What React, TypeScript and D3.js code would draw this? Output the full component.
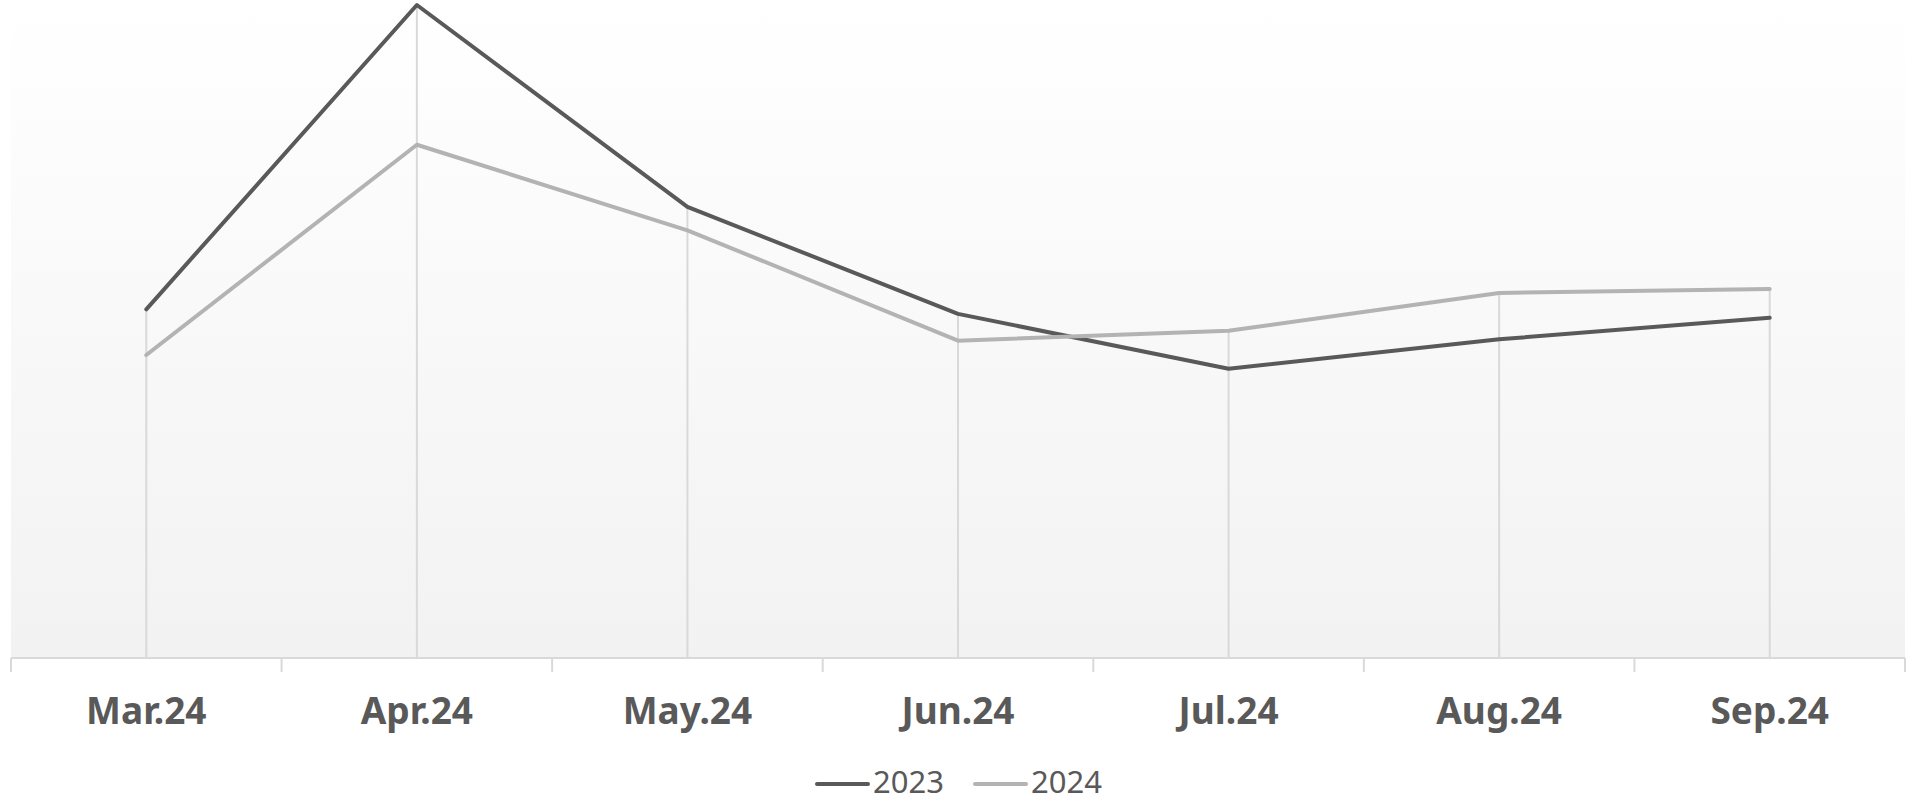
import React, { useEffect, useRef } from 'react';
import * as d3 from 'd3';

const MONTHS = ['Mar.24', 'Apr.24', 'May.24', 'Jun.24', 'Jul.24', 'Aug.24', 'Sep.24'];
const SERIES_NAMES = ['2023', '2024'];
const VALUES_2023 = [53.4, 100, 69.1, 52.7, 44.3, 48.8, 52.1];
const VALUES_2024 = [46.4, 78.6, 65.5, 48.6, 50.1, 55.9, 56.5];
const Y_DOMAIN: [number, number] = [0, 100];

const COLORS = ['#595959', '#b3b3b3'];

const WIDTH = 1914;
const HEIGHT = 802;

export default function App() {
  const svgRef = useRef<SVGSVGElement>(null);

  useEffect(() => {
    document.body.style.margin = '0';
    if (!svgRef.current) return;

    const svg = d3.select(svgRef.current);
    svg.selectAll('*').remove();

    const plot = { left: 11, right: 1905, top: 0, bottom: 658 };

    const xScale = d3
      .scaleBand<string>()
      .domain(MONTHS)
      .range([plot.left, plot.right])
      .paddingInner(0)
      .paddingOuter(0);

    const yScale = d3.scaleLinear().domain(Y_DOMAIN).range([plot.bottom, 5]);

    const cx = (m: string) => (xScale(m) as number) + xScale.bandwidth() / 2;

    // background gradient
    const defs = svg.append('defs');
    const grad = defs
      .append('linearGradient')
      .attr('id', 'plotBg')
      .attr('x1', 0)
      .attr('y1', 0)
      .attr('x2', 0)
      .attr('y2', 1);
    grad.append('stop').attr('offset', '0%').attr('stop-color', '#ffffff');
    grad.append('stop').attr('offset', '100%').attr('stop-color', '#f2f2f2');

    svg
      .append('rect')
      .attr('x', plot.left)
      .attr('y', plot.top)
      .attr('width', plot.right - plot.left)
      .attr('height', plot.bottom - plot.top)
      .attr('fill', 'url(#plotBg)');

    const series = [VALUES_2023, VALUES_2024];

    // drop lines from the highest point to the axis
    svg
      .append('g')
      .selectAll('line')
      .data(MONTHS)
      .join('line')
      .attr('x1', (d) => cx(d))
      .attr('x2', (d) => cx(d))
      .attr('y1', (_, i) => yScale(Math.max(VALUES_2023[i], VALUES_2024[i])))
      .attr('y2', plot.bottom)
      .attr('stroke', '#d9d9d9')
      .attr('stroke-width', 2);

    // x axis line and ticks at band edges
    const axisG = svg.append('g');
    axisG
      .append('line')
      .attr('x1', plot.left)
      .attr('x2', plot.right)
      .attr('y1', plot.bottom)
      .attr('y2', plot.bottom)
      .attr('stroke', '#d9d9d9')
      .attr('stroke-width', 2);

    const edges = MONTHS.map((m) => xScale(m) as number).concat([plot.right]);
    axisG
      .selectAll('line.tick')
      .data(edges)
      .join('line')
      .attr('class', 'tick')
      .attr('x1', (d) => d)
      .attr('x2', (d) => d)
      .attr('y1', plot.bottom)
      .attr('y2', plot.bottom + 14)
      .attr('stroke', '#d9d9d9')
      .attr('stroke-width', 2);

    axisG
      .selectAll('text')
      .data(MONTHS)
      .join('text')
      .attr('x', (d) => cx(d))
      .attr('y', 724)
      .attr('text-anchor', 'middle')
      .attr('font-family', '"Noto Sans", sans-serif')
      .attr('font-weight', 'bold')
      .attr('font-size', '37px')
      .attr('fill', '#595959')
      .text((d) => d);

    // lines
    const line = d3
      .line<number>()
      .x((_, i) => cx(MONTHS[i]))
      .y((d) => yScale(d));

    series.forEach((vals, idx) => {
      svg
        .append('path')
        .attr('d', line(vals))
        .attr('fill', 'none')
        .attr('stroke', COLORS[idx])
        .attr('stroke-width', 4)
        .attr('stroke-linecap', 'round')
        .attr('stroke-linejoin', 'round');
    });

    // legend
    const legendX = [817, 975];
    SERIES_NAMES.forEach((name, idx) => {
      const item = svg.append('g').attr('transform', `translate(${legendX[idx]}, 784)`);
      item
        .append('line')
        .attr('x1', 0)
        .attr('x2', 51)
        .attr('y1', 0)
        .attr('y2', 0)
        .attr('stroke', COLORS[idx])
        .attr('stroke-width', 4)
        .attr('stroke-linecap', 'round');
      item
        .append('text')
        .attr('x', 56)
        .attr('y', 9)
        .attr('font-family', '"Noto Sans", sans-serif')
        .attr('font-size', '31px')
        .attr('fill', '#595959')
        .text(name);
    });
  }, []);

  return <svg ref={svgRef} width={WIDTH} height={HEIGHT} style={{ display: 'block' }} />;
}
